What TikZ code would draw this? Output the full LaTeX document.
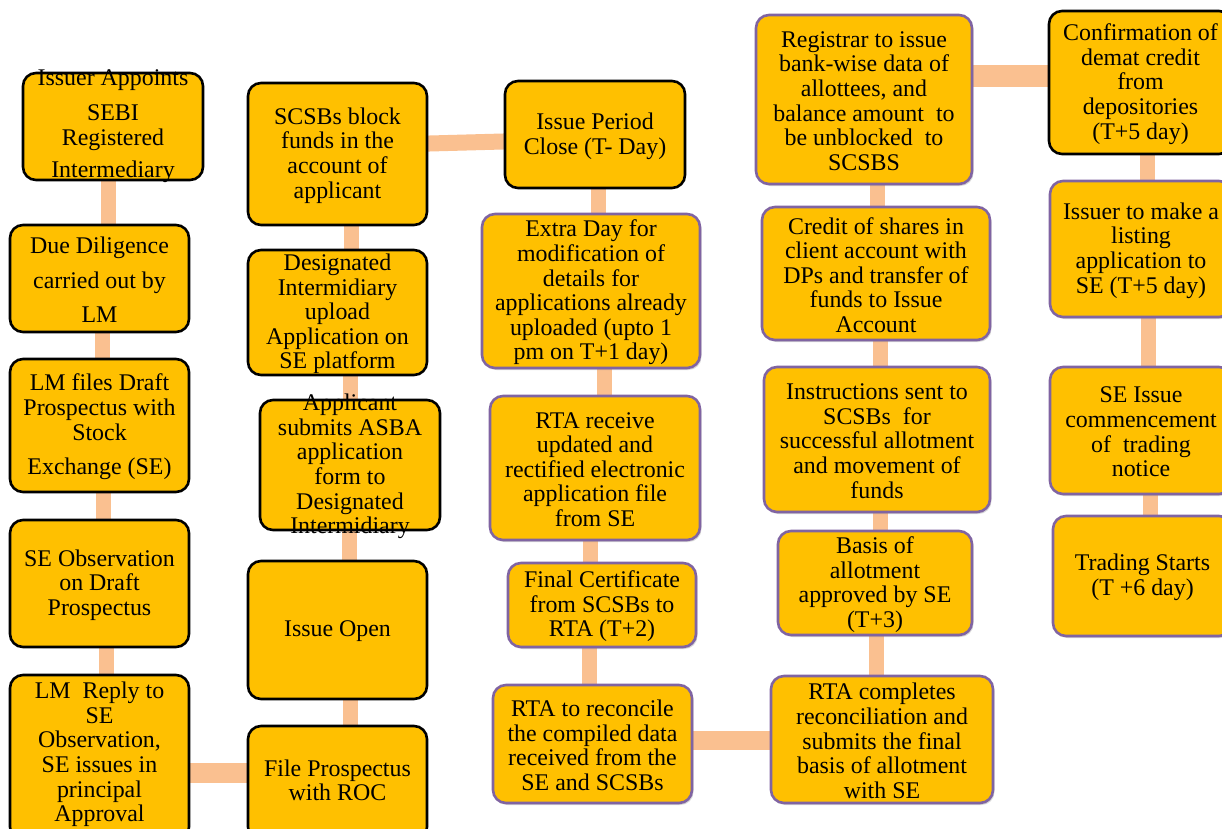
\documentclass[tikz,border=0pt]{standalone}
\usepackage{fontspec}
\setmainfont{Liberation Serif}
\usetikzlibrary{shadows,backgrounds}
\definecolor{gold}{HTML}{FFC000}
\definecolor{purp}{HTML}{8064A2}
\definecolor{peach}{HTML}{FAC090}
\tikzset{
  box/.style={rectangle, rounded corners=13pt, fill=gold, line width=2.6pt, inner sep=0pt},
  blk/.style={box, draw=black},
  prp/.style={box, draw=purp, drop shadow={shadow xshift=1.5pt, shadow yshift=-2pt, opacity=0.3}},
  txt/.style={align=center, inner sep=0pt, yshift=-1.5pt, font=\fontsize{23.9}{24.6}\selectfont},
  link/.style={draw=peach, line width=15pt},
}
\newcommand\bx[6]{\node[#2, minimum width={#5-#3}, minimum height={#6-#4}] (#1) at ({(#3+#5)/2},{(#4+#6)/2}) {};}
\begin{document}
\begin{tikzpicture}[x=1pt,y=-1pt]
\useasboundingbox (0,0) rectangle (1222,828);
% column 1
\bx{A1}{blk}{23}{73}{203}{180}
\bx{A2}{blk}{10}{225}{189}{332}
\bx{A3}{blk}{10}{359}{189}{492}
\bx{A4}{blk}{10}{520}{189}{647}
\bx{A5}{blk}{10}{675}{189}{840}
% column 2
\bx{B1}{blk}{248}{83}{427}{225}
\bx{B2}{blk}{248}{250}{427}{375}
\bx{B3}{blk}{260}{400}{440}{530}
\bx{B4}{blk}{248}{561}{427}{699}
\bx{B5}{blk}{248}{726}{427}{840}
% column 3
\bx{C1}{blk}{505}{81}{685}{188}
\bx{C2}{prp}{482}{214}{700}{368}
\bx{C3}{prp}{490}{396}{700}{540}
\bx{C4}{prp}{508}{563}{696}{647}
\bx{C5}{prp}{493}{685}{692}{803}
% column 4
\bx{D1}{prp}{756}{15}{972}{184}
\bx{D2}{prp}{762}{207}{990}{340}
\bx{D3}{prp}{764}{367}{990}{512}
\bx{D4}{prp}{778}{531}{972}{635}
\bx{D5}{prp}{771}{676}{993}{803}
% column 5
\bx{E1}{blk}{1049}{11}{1232}{154}
\bx{E2}{prp}{1050}{181}{1232}{317}
\bx{E3}{prp}{1050}{367}{1232}{494}
\bx{E4}{prp}{1053}{516}{1232}{636}
% texts
\node[txt] (A1t) at (113,125) {Issuer Appoints\\[10pt]SEBI\\Registered\\[8pt]Intermediary};
\node[txt] (A2t) at (A2) {Due Diligence\\[10pt]carried out by\\[10pt]LM};
\node[txt] (A3t) at (A3) {LM files Draft\\Prospectus with\\Stock\\[10pt]Exchange (SE)};
\node[txt] (A4t) at (A4) {SE Observation\\on Draft\\Prospectus};
\node[txt] (A5t) at (99.5,753) {LM~ Reply to\\SE\\Observation,\\SE issues in\\principal\\Approval};
\node[txt] (B1t) at (B1) {SCSBs block\\funds in the\\account of\\applicant};
\node[txt] (B2t) at (B2) {Designated\\Intermidiary\\upload\\Application on\\SE platform};
\node[txt] (B3t) at (B3) {Applicant\\submits ASBA\\application\\form to\\Designated\\Intermidiary};
\node[txt] (B4t) at (B4) {Issue Open};
\node[txt] (B5t) at (337.5,779) {File Prospectus\\with ROC};
\node[txt] (C1t) at (C1) {Issue Period\\Close (T- Day)};
\node[txt] (C2t) at (C2) {Extra Day for\\modification of\\details for\\applications already\\uploaded (upto 1\\pm on T+1 day)};
\node[txt] (C3t) at (C3) {RTA receive\\updated and\\rectified electronic\\application file\\from SE};
\node[txt] (C4t) at (C4) {Final Certificate\\from SCSBs to\\RTA (T+2)};
\node[txt] (C5t) at (C5) {RTA to reconcile\\the compiled data\\received from the\\SE and SCSBs};
\node[txt] (D1t) at (D1) {Registrar to issue\\bank-wise data of\\allottees, and\\balance amount~ to\\be unblocked~ to\\SCSBS};
\node[txt] (D2t) at (D2) {Credit of shares in\\client account with\\DPs and transfer of\\funds to Issue\\Account};
\node[txt] (D3t) at (D3) {Instructions sent to\\SCSBs~ for\\successful allotment\\and movement of\\funds};
\node[txt] (D4t) at (D4) {Basis of\\allotment\\approved by SE\\(T+3)};
\node[txt] (D5t) at (D5) {RTA completes\\reconciliation and\\submits the final\\basis of allotment\\with SE};
\node[txt] (E1t) at (E1) {Confirmation of\\demat credit\\from\\depositories\\(T+5 day)};
\node[txt] (E2t) at (E2) {Issuer to make a\\listing\\application to\\SE (T+5 day)};
\node[txt] (E3t) at (E3) {SE Issue\\commencement\\of~ trading\\notice};
\node[txt] (E4t) at (E4) {Trading Starts\\(T +6 day)};
% connectors
\begin{scope}[on background layer]
\fill[white] (0,0) rectangle (1222,828);
\draw[link] (108,0 |- A1.center) -- (108,0 |- A2.center);
\draw[link] (102,0 |- A2.center) -- (102,0 |- A3.center);
\draw[link] (103,0 |- A3.center) -- (103,0 |- A4.center);
\draw[link] (106,0 |- A4.center) -- (106,0 |- A5.center);
\draw[link, line width=20pt] (A5.center |- 0,773) -- (B5.center |- 0,773);
\draw[link] (350,0 |- B5.center) -- (350,0 |- B4.center);
\draw[link] (349,0 |- B4.center) -- (349,0 |- B3.center);
\draw[link] (350,0 |- B3.center) -- (350,0 |- B2.center);
\draw[link] (351,0 |- B2.center) -- (351,0 |- B1.center);
\draw[link, line width=16pt] (B1.center |- 0,146) -- (C1.center |- 0,139);
\draw[link] (598,0 |- C1.center) -- (598,0 |- C2.center);
\draw[link] (604,0 |- C2.center) -- (604,0 |- C3.center);
\draw[link] (590,0 |- C3.center) -- (590,0 |- C4.center);
\draw[link] (589,0 |- C4.center) -- (589,0 |- C5.center);
\draw[link, line width=19pt] (C5.center |- 0,740) -- (D5.center |- 0,740);
\draw[link] (876,0 |- D5.center) -- (876,0 |- D4.center);
\draw[link] (880,0 |- D4.center) -- (880,0 |- D3.center);
\draw[link] (880,0 |- D3.center) -- (880,0 |- D2.center);
\draw[link] (877,0 |- D2.center) -- (877,0 |- D1.center);
\draw[link, line width=22pt] (D1.center |- 0,76) -- (E1.center |- 0,76);
\draw[link] (1147,0 |- E1.center) -- (1147,0 |- E2.center);
\draw[link] (1148,0 |- E2.center) -- (1148,0 |- E3.center);
\draw[link] (1150,0 |- E3.center) -- (1150,0 |- E4.center);
\end{scope}
\end{tikzpicture}
\end{document}
